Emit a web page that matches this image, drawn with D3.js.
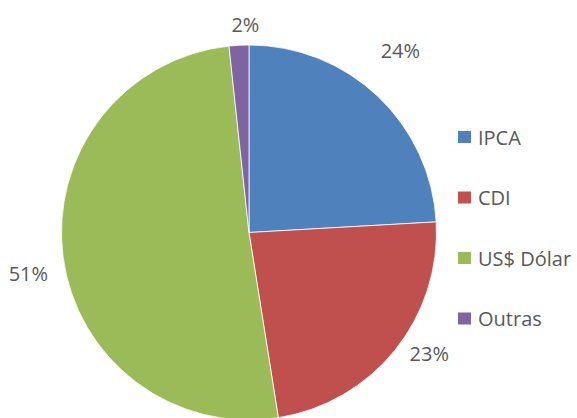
<!DOCTYPE html>
<html>
<head>
<meta charset="utf-8">
<script src="https://cdn.jsdelivr.net/npm/d3@7"></script>
<style>
  body { margin: 0; background: #fff; }
  text { font-family: "Open Sans", "Liberation Sans", sans-serif; fill: #595959; }
</style>
</head>
<body>
<script>
var categories = ["IPCA", "CDI", "US$ Dólar", "Outras"];
var values = [24.1, 23.4, 50.8, 1.7];
var labels = ["24%", "23%", "51%", "2%"];
var colors = ["#4f81bd", "#c0504d", "#9bbb59", "#8064a2"];

var width = 577, height = 418;
var cx = 249, cy = 232.5, r = 187.5;

var svg = d3.select("body")
    .append("svg")
    .attr("width", width)
    .attr("height", height);

var pie = d3.pie().sort(null).value(function (d) { return d; });
var arc = d3.arc().innerRadius(0).outerRadius(r);
var arcs = pie(values);

var g = svg.append("g").attr("transform", "translate(" + cx + "," + cy + ")");

g.selectAll("path")
    .data(arcs)
    .enter()
    .append("path")
    .attr("d", arc)
    .attr("fill", function (d, i) { return colors[i]; })
    .attr("stroke", "#fff")
    .attr("stroke-width", 0.8);

// labels outside the pie (best fit nudges)
var labelArc = d3.arc().innerRadius(r + 30).outerRadius(r + 30);
var nudgeX = [2, 11, -5, 8];
var nudgeY = [-24, -16, 12, 9];
g.selectAll(".lbl")
    .data(arcs)
    .enter()
    .append("text")
    .attr("class", "lbl")
    .attr("x", function (d, i) { return labelArc.centroid(d)[0] + nudgeX[i]; })
    .attr("y", function (d, i) { return labelArc.centroid(d)[1] + nudgeY[i]; })
    .attr("text-anchor", "middle")
    .attr("dominant-baseline", "central")
    .style("font-size", "20px")
    .text(function (d, i) { return labels[i]; });

// legend
var legend = svg.append("g").attr("transform", "translate(458,137)");
var item = legend.selectAll(".item")
    .data(categories)
    .enter()
    .append("g")
    .attr("transform", function (d, i) { return "translate(0," + (i * 60.5) + ")"; });

item.append("rect")
    .attr("x", 0)
    .attr("y", -6)
    .attr("width", 13)
    .attr("height", 12)
    .attr("fill", function (d, i) { return colors[i]; });

item.append("text")
    .attr("x", 20)
    .attr("y", 0)
    .attr("dominant-baseline", "central")
    .style("font-size", "20px")
    .text(function (d) { return d; });
</script>
</body>
</html>
